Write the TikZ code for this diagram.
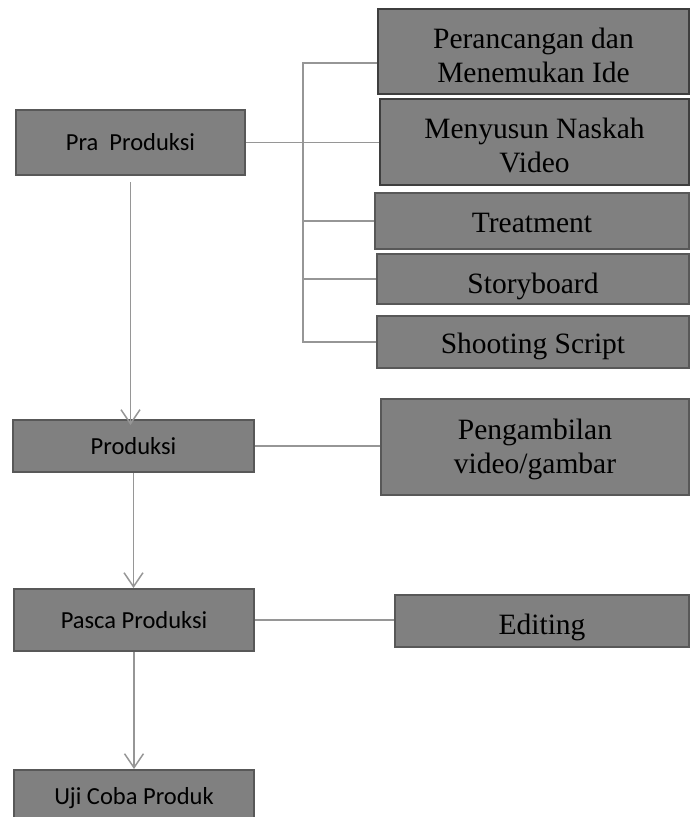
\documentclass[tikz,border=0pt]{standalone}
\usepackage{fontspec}
\setmainfont{Liberation Serif}
\newfontfamily\calibri{Carlito}
\usepackage{tikz}
\usetikzlibrary{arrows.meta}
\newcommand{\xk}{688}
\definecolor{isiabu}{RGB}{128,128,128}
\definecolor{tepiabu}{RGB}{88,88,88}
\definecolor{tepigelap}{RGB}{62,62,62}
\definecolor{garisabu}{RGB}{150,150,150}
\tikzstyle{kotak}=[draw=tepiabu,fill=isiabu,line width=2pt,anchor=north west,inner sep=0pt,align=flush center]
\tikzstyle{tahap}=[kotak,font=\calibri\fontsize{24.5}{29}\selectfont]
\tikzstyle{rinci}=[kotak,font=\fontsize{29.5}{34.5}\selectfont]
\tikzstyle{gelap}=[draw=tepigelap]
\tikzstyle{garis}=[draw=garisabu,line width=1.5pt]
\tikzstyle{panah}=[garis,-{Straight Barb[length=14pt,width=19pt]}]

\begin{document}
\begin{tikzpicture}[x=1pt,y=-1pt]
\useasboundingbox (0,0) rectangle (689,817);

% tahap produksi (kiri)
\node[tahap,text width=229,text height=40,text depth=25] (pra) at (15,109) {Pra\ \ Produksi};
\node[tahap,text width=241,text height=34,text depth=18] (produksi) at (12,419) {Produksi};
\node[tahap,text width=240,text height=39,text depth=23] (pasca) at (13,588) {Pasca Produksi};
\node[tahap,text width=240,text height=34,text depth=19] (uji) at (13,769) {Uji Coba Produk};

% rincian (kanan)
\node[rinci,gelap,text width=\xk-377,text height=39,text depth=46] (ide) at (377,8) {Perancangan dan\\Menemukan Ide};
\node[rinci,gelap,text width=\xk-379,text height=39,text depth=47] (naskah) at (379,98) {Menyusun Naskah\\Video};
\node[rinci,text width=\xk-374,text height=39,text depth=17] (treatment) at (374,192) {Treatment};
\node[rinci,text width=\xk-376,text height=39,text depth=11] (storyboard) at (376,253) {Storyboard};
\node[rinci,text width=\xk-376,text height=37,text depth=15] (shooting) at (376,315) {Shooting Script};
\node[rinci,text width=\xk-380,text height=40,text depth=56] (ambil) at (380,398) {Pengambilan\\video/gambar};
\node[rinci,text width=\xk-394,text height=39,text depth=13] (editing) at (394,594) {Editing};

% kurung rincian pra produksi
\coordinate (atas) at (303,63);
\draw[garis] (ide.west |- atas) -- (atas) -- (atas |- shooting.west) -- (shooting.west);
\foreach \k in {treatment,storyboard}
  \draw[garis] (atas |- \k.west) -- (\k.west);

\draw[garis] (pra.east) -- (pra.east -| naskah.west);
\draw[garis] (produksi.east) -- (produksi.east -| ambil.west);
\draw[garis] (pasca.east) -- (pasca.east -| editing.west);

% alur
\draw[panah] ([yshift=-6pt]pra.south) -- ([yshift=-6pt]pra.south |- produksi.north);
\draw[panah] (produksi.south) -- (produksi.south |- pasca.north);
\draw[panah] (pasca.south) -- (pasca.south |- uji.north);

\end{tikzpicture}
\end{document}
